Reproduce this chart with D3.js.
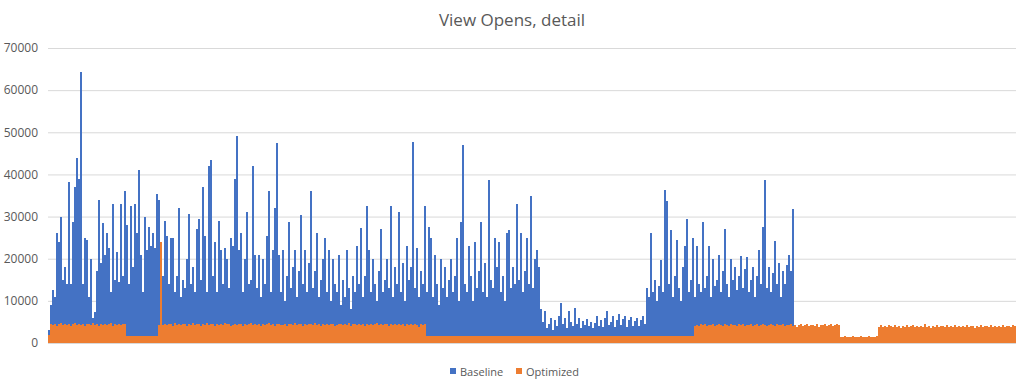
<!DOCTYPE html>
<html><head><meta charset="utf-8">
<script src="https://cdn.jsdelivr.net/npm/d3@7"></script>
<style>body{margin:0;background:#fff} svg{display:block}</style>
</head><body><svg id="c" width="1024" height="381"></svg>
<script>
const chartTitle = "View Opens, detail";
const seriesNames = ["Baseline", "Optimized"];
const seriesColors = ["#4472C4", "#ED7D31"];
const yTicks = [0, 10000, 20000, 30000, 40000, 50000, 60000, 70000];

const baseline = [
3000, 9000, 12500, 11000, 26000, 24000, 30000, 15000, 18000, 14000,
38300, 14000, 28700, 37000, 44000, 39000, 64200, 14000, 25000, 24500,
11000, 20000, 6000, 7400, 17000, 34000, 19000, 28400, 21000, 26000,
22500, 12000, 33000, 15000, 21500, 14500, 33000, 16000, 36000, 28000,
14000, 32500, 18000, 33000, 26000, 41000, 21000, 12000, 30000, 22000,
27500, 23000, 26000, 22500, 35300, 34000, 9000, 16000, 29000, 25500,
14000, 25000, 25000, 12000, 16000, 32000, 11000, 15000, 13000, 20000,
30500, 14000, 18000, 12000, 27000, 29500, 15000, 37000, 25500, 12000,
42000, 43500, 16000, 24000, 12000, 29000, 22000, 14000, 22500, 20000,
13000, 25000, 23000, 39000, 49200, 22000, 26000, 12000, 20000, 31000,
14000, 15000, 42000, 21000, 13000, 21000, 11000, 20000, 14000, 25500,
36000, 12000, 22000, 32000, 47500, 21000, 12000, 22000, 10000, 16000,
28800, 13000, 18000, 22000, 11000, 17000, 30400, 14000, 22000, 12000,
19000, 36000, 13000, 17000, 26000, 11000, 15000, 20000, 24900, 12000,
22000, 10000, 20000, 14000, 12000, 21000, 9000, 15000, 11000, 22000,
13000, 8000, 16000, 12000, 22900, 14000, 27400, 11000, 16000, 32500,
22000, 12000, 20000, 14000, 10000, 17000, 27000, 12000, 15000, 20000,
13000, 32500, 11000, 18000, 14000, 31000, 12000, 19000, 10000, 23000,
15000, 18000, 47800, 13000, 22500, 11000, 17000, 14000, 32400, 12000,
27500, 25000, 11000, 21000, 14000, 9000, 20000, 13000, 18000, 11000,
15000, 20000, 12000, 16000, 25000, 10000, 28800, 47000, 14000, 12000,
23000, 16000, 10000, 24000, 13000, 17000, 28800, 12000, 19000, 11000,
38700, 15000, 13000, 25000, 18000, 24000, 12000, 16000, 10000, 26200,
26800, 13000, 18000, 14000, 33000, 15000, 26200, 12000, 17000, 25000,
14000, 34800, 13000, 20000, 22000, 18000, 8000, 5000, 7500, 3500,
4500, 6000, 3200, 5500, 4000, 6500, 9400, 4500, 6000, 3500,
7500, 5000, 4000, 8200, 4500, 6000, 3500, 5200, 4300, 5800,
4000, 5000, 3500, 4800, 6500, 4000, 5500, 3800, 6000, 7500,
4200, 5000, 6500, 3800, 5500, 7000, 4200, 5800, 6500, 3800,
5500, 6200, 4000, 5200, 6000, 4000, 5500, 6300, 4500, 13000,
11000, 26000, 12000, 15000, 10000, 13500, 19700, 12000, 36300, 33600,
14000, 26800, 11000, 16000, 24500, 13000, 10000, 18000, 23000, 29400,
12000, 15000, 25000, 11000, 23000, 14000, 12000, 28600, 13000, 16000,
23000, 11000, 20000, 13500, 15000, 21000, 12000, 17000, 27000, 14000,
11000, 20000, 15000, 18000, 12500, 16000, 20700, 13000, 17500, 20500,
12000, 15000, 18000, 11000, 16000, 22000, 14000, 27600, 38700, 13000,
18000, 12000, 16500, 24200, 14000, 19000, 11000, 17000, 14000, 18500,
20900, 17000, 31700
];

const optimized = [
2000, 4600, 4300, 4500, 4100, 4400, 4700, 4200, 4500, 4300,
4600, 4100, 4400, 4800, 4200, 4500, 4300, 4600, 4000, 4400,
4500, 4200, 4700, 4300, 4400, 4100, 4600, 4300, 4500, 4200,
4400, 4700, 4100, 4500, 4300, 4600, 4200, 4400, 4500,
1700, 1600, 1650, 1600, 1700, 1650, 1600, 1700, 1650, 1600, 1700, 1650, 1600, 1650, 1700, 1600,
4200, 24000,
4300, 4600, 4200, 4500, 4400, 4100, 4700, 4300, 4500, 4200,
4400, 4600, 4000, 4500, 4300, 4800, 4200, 4400, 4600, 4100,
4500, 4300, 4700, 4200, 4400, 4500, 4100, 4600, 4300, 4400,
4200, 4700, 4400, 4500, 4000, 4300, 4600, 4200, 4500, 4400,
4100, 4600, 4300, 4500, 4800, 4200, 4400, 4300, 4600, 4100,
4500, 4200, 4400, 4700, 4300, 4500, 4000, 4400, 4600, 4200,
4300, 4500, 4100, 4600, 4400, 4200, 4700, 4300, 4500, 4400,
4100, 4600, 4300, 4400, 4500, 4200, 4800, 4300, 4400, 4100,
4500, 4300, 4600, 4200, 4400, 4500, 4000, 4300, 4600, 4400,
4200, 4500, 4300, 4700, 4100, 4400, 4500, 4200, 4600, 4300,
4400, 4100, 4500, 4300, 4600, 4200, 4400, 4700, 4300, 4500,
4200, 4400, 4600, 4100, 4500, 4300, 4400, 4200, 4600, 4300,
4500, 4100, 4400, 4300, 4600, 4200, 4500, 4300, 3800, 4400, 4200, 4500,
1700, 1650, 1600, 1700, 1650, 1700, 1600, 1650, 1700, 1650,
1600, 1700, 1650, 1600, 1700, 1650, 1700, 1600, 1650, 1700,
1650, 1600, 1700, 1650, 1700, 1600, 1650, 1700, 1600, 1650,
1700, 1650, 1600, 1700, 1650, 1600, 1700, 1650, 1700, 1600,
1650, 1700, 1600, 1650, 1700, 1650, 1600, 1700, 1650, 1700,
1600, 1650, 1700, 1600, 1650, 1700, 1650, 1600, 1700, 1650,
1700, 1600, 1650, 1700, 1650, 1600, 1700, 1650, 1600, 1700,
1650, 1700, 1600, 1650, 1700, 1600, 1650, 1700, 1650, 1600,
1700, 1650, 1600, 1700, 1650, 1700, 1600, 1650, 1700, 1650,
1600, 1700, 1650, 1600, 1700, 1650, 1700, 1600, 1650, 1700,
1650, 1600, 1700, 1650, 1700, 1600, 1650, 1700, 1600, 1650,
1700, 1650, 1600, 1700, 1650, 1600, 1700, 1650, 1700, 1600,
1650, 1700, 1600, 1650, 1700, 1650, 1600, 1700, 1650, 1700,
1600, 1650, 1700, 1650,
4000, 4300, 4100, 4400, 4200, 4500, 4000, 4300, 4200, 4400,
4100, 4300, 4600, 4200, 4000, 4400, 4300, 4100, 4500, 4200,
4300, 4000, 4400, 4200, 4600, 4100, 4300, 4200, 4400, 4000,
4300, 4500, 4100, 4200, 4400, 4300, 4000, 4200, 4500, 4300,
4100, 4400, 4200, 4300, 4600, 4000, 4300, 4200, 4400, 4100,
4300, 3900, 4200, 4400, 4100, 4300, 4500, 4000, 4200, 4300,
4100, 4400, 3800, 4200, 4300, 4500, 4000, 4200, 4400, 4100,
4300, 4600, 4200,
1500, 1450, 1550, 1500, 1450, 1500, 1550, 1450, 1500, 1500,
1550, 1450, 1500, 1450, 1550, 1500, 1450, 1500, 1550,
3800, 4200, 3900, 4100, 3700, 4300, 4000, 3800, 4200, 3900,
4000, 3600, 4100, 3900, 4300, 3800, 4000, 4200, 3700, 4000,
3900, 4100, 3800, 4400, 3900, 4000, 3600, 4100, 3900, 4200,
3800, 4000, 4100, 3700, 4300, 3900, 4000, 3800, 4200, 3900,
4100, 3700, 4000, 3900, 4300, 3800, 4100, 4000, 3600, 4000,
3900, 4200, 3800, 4000, 4100, 3700, 4200, 3900, 4000, 3800,
4100, 3900, 4300, 3800, 4000, 4100, 3700, 4200, 4000
];

const categories = d3.range(1, optimized.length + 1);

const svg = d3.select("#c");
const plotL = 48, plotR = 1016, plotT = 48, plotB = 343;

const x = d3.scaleBand().domain(categories).range([plotL, plotR]).padding(0);
const y = d3.scaleLinear().domain([0, 70000]).range([plotB, plotT]);

// gridlines + y labels
const yAxis = svg.append("g")
  .attr("transform", `translate(${plotL},0)`)
  .call(d3.axisLeft(y).tickValues(yTicks).tickSize(-(plotR - plotL)).tickPadding(10).tickFormat(d3.format("d")));
yAxis.select(".domain").remove();
yAxis.selectAll("line").attr("stroke", "#d9d9d9").attr("stroke-width", 1);
yAxis.selectAll("text").attr("fill", "#595959").style("font-family", "'Open Sans', sans-serif").style("font-size", "12px");

// bars
const series = [baseline, optimized];
series.forEach((vals, si) => {
  svg.append("g").attr("shape-rendering", "crispEdges")
    .selectAll("rect").data(vals).join("rect")
    .attr("x", (d, i) => x(categories[i]))
    .attr("width", x.bandwidth())
    .attr("y", d => y(d))
    .attr("height", d => y(0) - y(d))
    .attr("fill", seriesColors[si]);
});

// title
svg.append("text").attr("x", 512).attr("y", 26).attr("text-anchor", "middle")
  .attr("fill", "#595959").style("font-family", "'Open Sans', sans-serif").style("font-size", "17px")
  .text(chartTitle);

// legend
const legendX = [450, 516];
const lg = svg.append("g");
seriesNames.forEach((n, i) => {
  lg.append("rect").attr("x", legendX[i]).attr("y", 368).attr("width", 6).attr("height", 6).attr("fill", seriesColors[i]);
  lg.append("text").attr("x", legendX[i] + 10).attr("y", 376).attr("fill", "#595959")
    .style("font-family", "'Open Sans', sans-serif").style("font-size", "11px").text(n);
});
</script></body></html>
